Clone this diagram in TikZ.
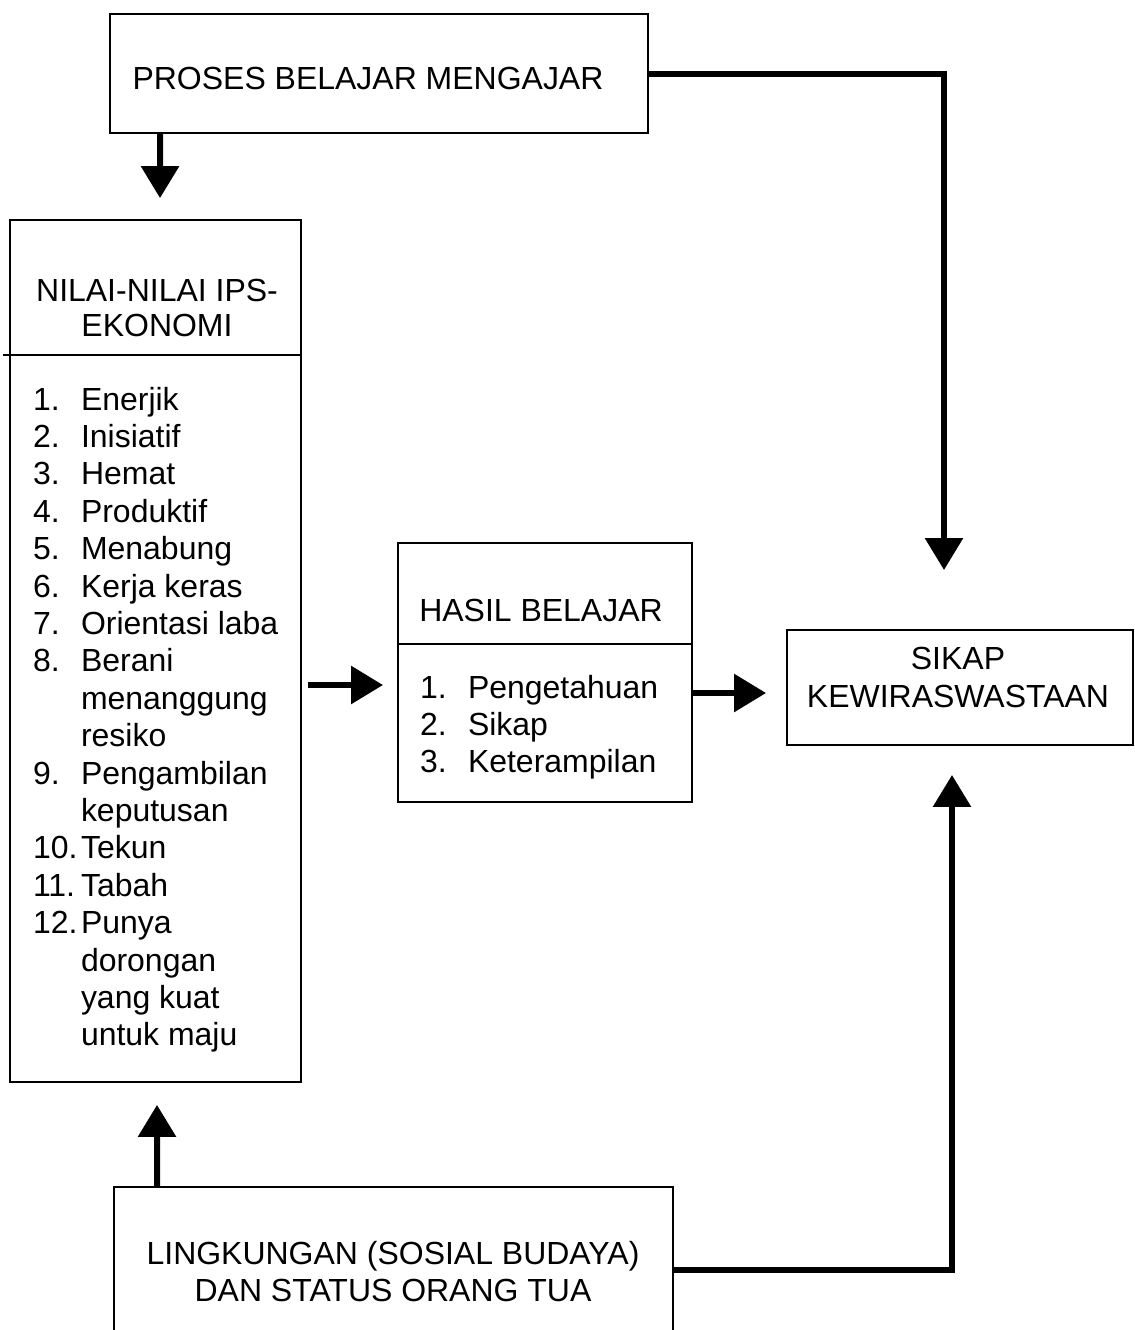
\documentclass[tikz,border=0pt]{standalone}
\usepackage{fontspec}
\setmainfont{Liberation Sans}
\usetikzlibrary{arrows.meta}
\begin{document}
\begin{tikzpicture}[x=0.02cm,y=-0.02cm,
  box/.style={draw,line width=0.035cm,inner sep=0pt,outer sep=0pt},
  txt/.style={inner sep=0pt,outer sep=0pt,font=\fontsize{18.2}{21.3}\selectfont,anchor=base},
  lft/.style={txt,anchor=base west},
  conn/.style={line width=0.12cm,-{Triangle[length=0.64cm,width=0.74cm]}}]
\useasboundingbox (0,0) rectangle (1135,1330);
\fill[white] (0,0) rectangle (1135,1330);

% boxes
\node[box,minimum width=10.76cm,minimum height=2.38cm] (proses) at (379,73.5) {};
\node[box,minimum width=5.82cm,minimum height=17.24cm] (nilai) at (155.5,651) {};
\node[box,minimum width=5.88cm,minimum height=5.18cm] (hasil) at (545,672.5) {};
\node[box,minimum width=6.92cm,minimum height=2.3cm] (sikap) at (960,687.5) {};
\node[box,minimum width=11.18cm,minimum height=3.32cm] (lingk) at (393.5,1270) {};

% dividers
\coordinate (nd) at (3,355);
\draw[line width=0.035cm] (nd) -- (nd -| nilai.east);
\coordinate (hd) at (398,644);
\draw[line width=0.035cm] (hd) -- (hd -| hasil.east);

% texts
\node[txt] (tproses) at (368,89) {PROSES BELAJAR MENGAJAR};
\node[txt] (tnilai1) at (157,301) {NILAI-NILAI IPS-};
\node[txt] (tnilai2) at (157,336) {EKONOMI};
\node[txt] (thasil) at (541,621) {HASIL BELAJAR};
\node[txt] (tsikap1) at (958,669) {SIKAP};
\node[txt] (tsikap2) at (958,707) {KEWIRASWASTAAN};
\node[txt] (tling1) at (393,1264) {LINGKUNGAN (SOSIAL BUDAYA)};
\node[txt] (tling2) at (393,1301) {DAN STATUS ORANG TUA};

\foreach \n/\t [count=\i] in {1./Enerjik,2./Inisiatif,3./Hemat,4./Produktif,5./Menabung,6./Kerja keras,7./Orientasi laba,8./Berani,/menanggung,/resiko,9./Pengambilan,/keputusan,10./Tekun,11./Tabah,12./Punya,/dorongan,/yang kuat,/untuk maju}{
  \node[lft] (num\i) at (33,{410+37.4*(\i-1)}) {\n};
  \node[lft] (itm\i) at (81,{410+37.4*(\i-1)}) {\t};
}
\foreach \n/\t [count=\i] in {1./Pengetahuan,2./Sikap,3./Keterampilan}{
  \node[lft] (hnum\i) at (420,{698+37.4*(\i-1)}) {\n};
  \node[lft] (hitm\i) at (468,{698+37.4*(\i-1)}) {\t};
}

% connectors
\draw[conn,shorten >=0.44cm] ([xshift=1cm]proses.south west) -- ([xshift=3cm]nilai.north west);
\draw[conn,shorten >=1.2cm] (proses.east) -| ([xshift=-0.32cm]sikap.north);
\coordinate (ha) at (0,685);
\draw[conn,shorten <=0.14cm,shorten >=0.3cm] (nilai.east |- ha) -- (hasil.west |- ha);
\coordinate (hs) at (0,693);
\draw[conn,shorten >=0.42cm] (hasil.east |- hs) -- (sikap.west |- hs);
\draw[conn,shorten >=0.46cm] ([xshift=0.86cm]lingk.north west) -- ([xshift=2.94cm]nilai.south west);
\draw[conn,shorten >=0.6cm] (lingk.east) -| ([xshift=-0.16cm]sikap.south);
\end{tikzpicture}
\end{document}
